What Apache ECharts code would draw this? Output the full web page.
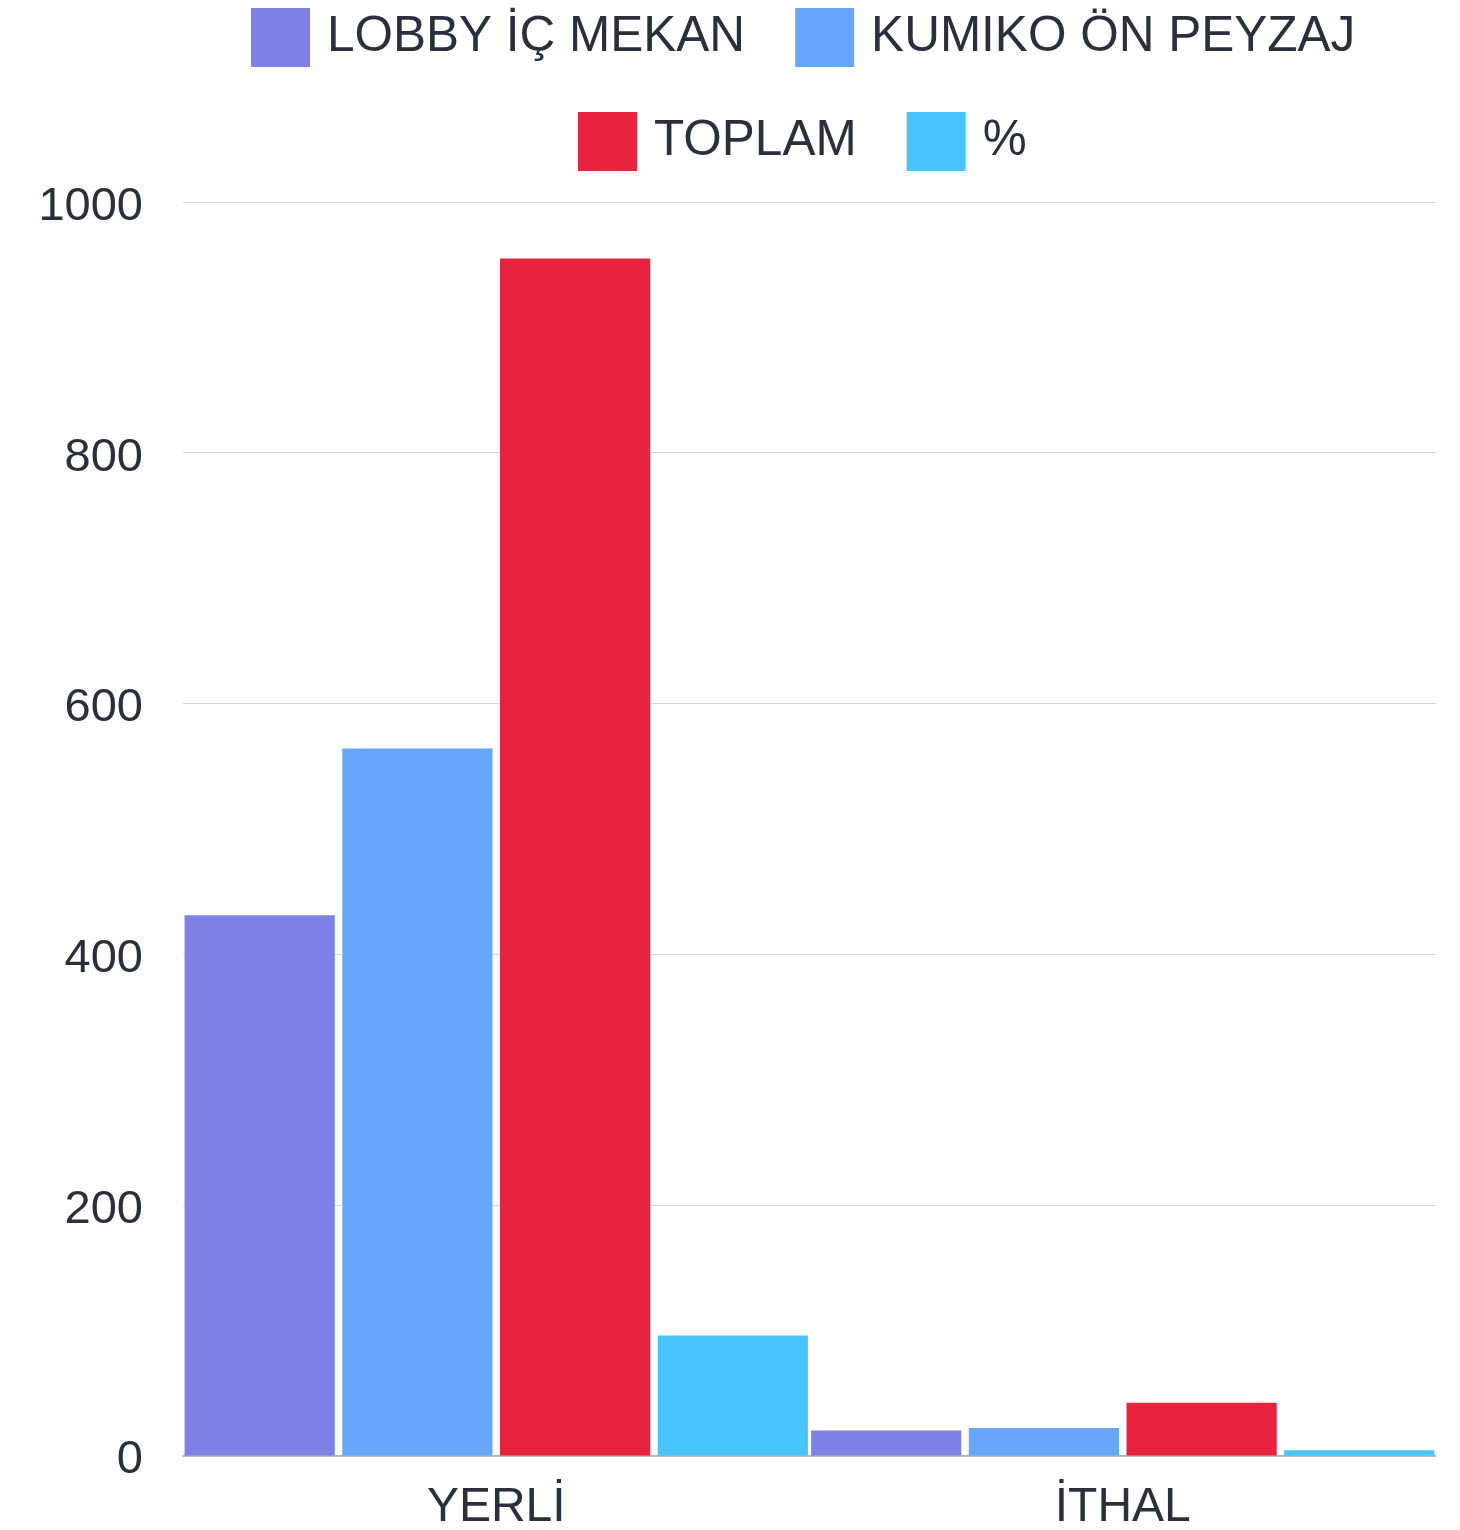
<!DOCTYPE html>
<html>
<head>
<meta charset="utf-8">
<title>YERLİ / İTHAL</title>
<script src="https://cdn.jsdelivr.net/npm/echarts@6/dist/echarts.min.js"></script>
<style>
  html, body { margin: 0; padding: 0; background: #fff; }
  #chart { width: 1460px; height: 1530px; }
</style>
</head>
<body>
<div id="chart"></div>
<script>
// kategoriler ve seriler
const categories = ["YERLİ", "İTHAL"];
const seriesNames = ["LOBBY İÇ MEKAN", "KUMIKO ÖN PEYZAJ", "TOPLAM", "%"];
const lobbyValues = [431, 20];
const kumikoValues = [564, 22];
const toplamValues = [955, 42];
const percentValues = [95.8, 4.2];
const yTicks = { min: 0, max: 1000, interval: 200 };

const colors = ["#7f81e6", "#66a7fa", "#e8233d", "#48c4fe"];
const textColor = "#2b2f3b";

const myChart = echarts.init(document.getElementById("chart"));

// legend ortak ayarlari
const legendBase = {
  orient: "horizontal",
  icon: "rect",
  itemWidth: 59,
  itemHeight: 59,
  itemGap: 50,
  textStyle: {
    fontFamily: "Liberation Sans, Arial, sans-serif",
    fontSize: 49.5,
    color: textColor,
    lineHeight: 59,
    padding: [0, 0, 0, 12],
  },
};

const option = {
  animation: false,
  color: colors,
  legend: [
    Object.assign({}, legendBase, {
      left: 246,
      top: 3,
      data: [seriesNames[0], seriesNames[1]],
    }),
    Object.assign({}, legendBase, {
      left: 573,
      top: 107,
      data: [seriesNames[2], seriesNames[3]],
    }),
  ],
  grid: {
    left: 183,
    right: 24,
    top: 202,
    bottom: 74.5,
    containLabel: false,
    outerBoundsMode: "none",
  },
  xAxis: {
    type: "category",
    data: categories,
    axisLine: {
      show: true,
      lineStyle: { color: "#a9a9ad", width: 1.5 },
    },
    axisTick: { show: false },
    axisLabel: {
      fontFamily: "Liberation Sans, Arial, sans-serif",
      fontSize: 48,
      color: textColor,
      margin: 28,
    },
  },
  yAxis: {
    type: "value",
    min: yTicks.min,
    max: yTicks.max,
    interval: yTicks.interval,
    axisLine: { show: false },
    axisTick: { show: false },
    splitLine: {
      lineStyle: { color: "#d4d4d8", width: 1.2 },
    },
    axisLabel: {
      color: textColor,
      margin: 40,
      formatter: (v) => "{t|" + v + "}",
      rich: {
        t: {
          fontFamily: "Liberation Sans, Arial, sans-serif",
          fontSize: 47,
          color: textColor,
          padding: [10, 0, 0, 0],
        },
      },
    },
  },
  series: [
    { name: seriesNames[0], type: "bar", data: lobbyValues, barGap: "5%", barCategoryGap: "0.5%" },
    { name: seriesNames[1], type: "bar", data: kumikoValues },
    { name: seriesNames[2], type: "bar", data: toplamValues },
    { name: seriesNames[3], type: "bar", data: percentValues },
  ],
};

myChart.setOption(option);
</script>
</body>
</html>
